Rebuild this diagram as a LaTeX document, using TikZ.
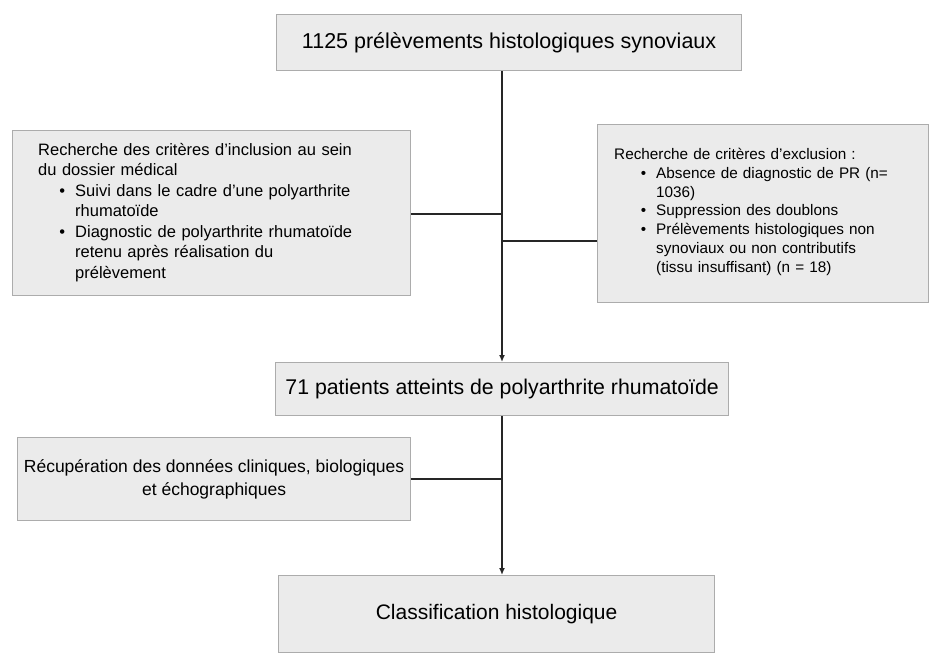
\documentclass[tikz,border=0pt]{standalone}
\usepackage{fontspec}
\setmainfont{Liberation Sans}
\usetikzlibrary{arrows.meta}
\newenvironment{puces}[1]{\begin{list}{\textbullet}{\setlength{\leftmargin}{#1}\setlength{\labelsep}{10pt}\setlength{\labelwidth}{10pt}\setlength{\itemsep}{0pt}\setlength{\parsep}{0pt}\setlength{\topsep}{0pt}\setlength{\partopsep}{0pt}}}{\end{list}}
\begin{document}
\begin{tikzpicture}[x=1pt,y=-1pt,
  boite/.style={draw=gray!65, line width=1.2pt, fill=gray!16, inner sep=0pt},
  lien/.style={draw=black!85, line width=1.6pt},
  fleche/.style={lien, -{Latex[length=7pt,width=6pt]}}]
\useasboundingbox (0,0) rectangle (932,657);
% boxes (pixel-like coordinates, y downwards)
\node[boite, minimum width=465pt, minimum height=56pt, anchor=north west, font=\fontsize{21.5}{24}\selectfont] (depart) at (276,14) {1125 prélèvements histologiques synoviaux};
\node[boite, minimum width=398pt, minimum height=165pt, anchor=north west] (inclusion) at (12,130) {};
\node[anchor=north west, text width=365pt, inner sep=0pt, font=\fontsize{16.5}{20.5}\selectfont] (txtinc) at (38,143) {Recherche des critères d'inclusion au sein\\ du dossier médical
\begin{puces}{37pt}
\item Suivi dans le cadre d'une polyarthrite\\ rhumatoïde
\item Diagnostic de polyarthrite rhumatoïde\\ retenu après réalisation du\\ prélèvement
\end{puces}};
\node[boite, minimum width=331pt, minimum height=178pt, anchor=north west] (exclusion) at (597,124) {};
\node[anchor=north west, text width=310pt, inner sep=0pt, font=\fontsize{15.3}{18.8}\selectfont] (txtexc) at (614,148) {Recherche de critères d'exclusion :
\begin{puces}{42pt}
\item Absence de diagnostic de PR (n=\\ 1036)
\item Suppression des doublons
\item Prélèvements histologiques non\\ synoviaux ou non contributifs\\ (tissu insuffisant) (n = 18)
\end{puces}};
\node[boite, minimum width=453pt, minimum height=53pt, anchor=north west, font=\fontsize{21.3}{24}\selectfont] (patients) at (275,362) {71 patients atteints de polyarthrite rhumatoïde};
\node[boite, minimum width=393pt, minimum height=83pt, anchor=north west, align=center, font=\fontsize{17.5}{23}\selectfont] (donnees) at (17,437) {Récupération des données cliniques, biologiques\\ et échographiques};
\node[boite, minimum width=436pt, minimum height=77pt, anchor=north west, font=\fontsize{21}{24}\selectfont] (classif) at (278,575) {Classification histologique};
% connectors
\coordinate (j1) at (502,214);
\coordinate (j2) at (502,241);
\coordinate (j3) at (502,479);
\draw[fleche] (depart.south -| j1) -- (patients.north -| j1);
\draw[lien] (inclusion.east |- j1) -- (j1);
\draw[lien] (j2) -- (exclusion.west |- j2);
\draw[fleche] (patients.south -| j3) -- (classif.north -| j3);
\draw[lien] (donnees.east |- j3) -- (j3);
\end{tikzpicture}
\end{document}
